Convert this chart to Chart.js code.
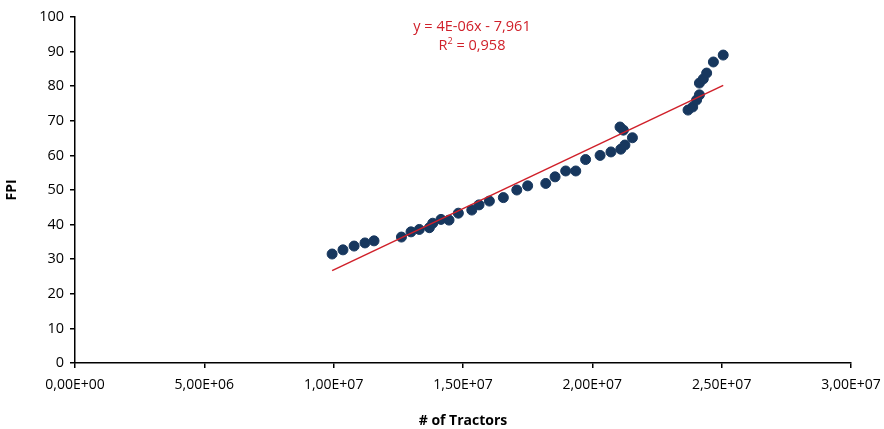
<!DOCTYPE html>
<html>
<head>
<meta charset="utf-8">
<script src="https://cdn.jsdelivr.net/npm/chart.js@4/dist/chart.umd.min.js"></script>
<style>
  html, body { margin: 0; padding: 0; background: #fff; }
  #wrap { width: 884px; height: 429px; position: relative; }
</style>
</head>
<body>
<div id="wrap"><canvas id="c" width="884" height="429"></canvas></div>
<script>
// Number of tractors (units) and the farm price index observed for each year
const tractors = [
  9.94e6, 10.36e6, 10.79e6, 11.21e6, 11.56e6, 12.62e6, 12.99e6, 13.31e6, 13.70e6, 13.83e6,
  14.15e6, 14.46e6, 14.82e6, 15.34e6, 15.62e6, 16.02e6, 16.56e6, 17.08e6, 17.50e6, 18.20e6,
  18.56e6, 18.97e6, 19.36e6, 19.74e6, 20.30e6, 20.72e6, 21.07e6, 21.20e6, 21.10e6, 21.26e6,
  21.55e6, 23.70e6, 23.88e6, 24.03e6, 24.14e6, 24.14e6, 24.29e6, 24.42e6, 24.68e6, 25.06e6
];
const fpi = [
  31.5, 32.7, 33.8, 34.7, 35.3, 36.4, 37.9, 38.6, 39.1, 40.4,
  41.5, 41.3, 43.3, 44.2, 45.7, 46.8, 47.8, 50.0, 51.2, 51.9,
  53.8, 55.5, 55.5, 58.8, 60.0, 61.0, 68.2, 67.3, 61.8, 63.0,
  65.1, 73.1, 74.0, 76.0, 77.5, 80.9, 82.1, 83.8, 87.0, 89.0
];
const xTicks = [0, 5e6, 1e7, 1.5e7, 2e7, 2.5e7, 3e7];
const yTicks = [0, 10, 20, 30, 40, 50, 60, 70, 80, 90, 100];
const trendLabel = ['y = 4E-06x - 7,961', '= 0,958'];

// Ordinary least-squares trend through the observations
const n = tractors.length;
const mx = tractors.reduce((a, b) => a + b, 0) / n;
const my = fpi.reduce((a, b) => a + b, 0) / n;
let sxy = 0, sxx = 0;
for (let i = 0; i < n; i++) {
  sxy += (tractors[i] - mx) * (fpi[i] - my);
  sxx += (tractors[i] - mx) ** 2;
}
const slope = sxy / sxx;
const intercept = my - slope * mx;
const xMin = Math.min(...tractors), xMax = Math.max(...tractors);
const trend = [
  { x: xMin, y: intercept + slope * xMin },
  { x: xMax, y: intercept + slope * xMax }
];

const points = tractors.map((x, i) => ({ x, y: fpi[i] }));

function sci(v) {
  if (v === 0) return '0,00E+00';
  const [m, e] = v.toExponential(2).split('e');
  const ev = parseInt(e, 10);
  return m.replace('.', ',') + 'E' + (ev < 0 ? '-' : '+') + String(Math.abs(ev)).padStart(2, '0');
}

const FONT = "'Open Sans', 'Noto Sans', sans-serif";
const RED = '#d0202a';
const EQ_SIZE = 14.5;

// Trend equation drawn above the plot
const equationPlugin = {
  id: 'equation',
  afterDraw(chart) {
    const ctx = chart.ctx;
    const cx = 472;
    ctx.save();
    ctx.fillStyle = RED;
    ctx.textBaseline = 'middle';
    ctx.font = EQ_SIZE + 'px ' + FONT;
    ctx.textAlign = 'center';
    ctx.fillText(trendLabel[0], cx, 27);
    // R² line: R, superscript 2, rest
    const r = 'R', sup = '2', rest = ' ' + trendLabel[1];
    const wR = ctx.measureText(r).width;
    const wRest = ctx.measureText(rest).width;
    ctx.font = '9px ' + FONT;
    const wSup = ctx.measureText(sup).width;
    const total = wR + wSup + wRest;
    const x0 = cx - total / 2;
    ctx.textAlign = 'left';
    ctx.font = EQ_SIZE + 'px ' + FONT;
    ctx.fillText(r, x0, 46);
    ctx.font = '9px ' + FONT;
    ctx.fillText(sup, x0 + wR, 41);
    ctx.font = EQ_SIZE + 'px ' + FONT;
    ctx.fillText(rest, x0 + wR + wSup, 46);
    ctx.restore();
  }
};

new Chart(document.getElementById('c'), {
  type: 'scatter',
  data: {
    datasets: [
      {
        label: 'FPI',
        data: points,
        backgroundColor: '#17375e',
        borderColor: '#17375e',
        pointRadius: 5,
        pointHoverRadius: 5,
        order: 2
      },
      {
        type: 'line',
        label: 'Trend',
        data: trend,
        borderColor: RED,
        borderWidth: 1.5,
        pointRadius: 0,
        fill: false,
        order: 1
      }
    ]
  },
  options: {
    responsive: false,
    animation: false,
    devicePixelRatio: 1,
    layout: { padding: { top: 17, right: 33, left: 0, bottom: 0 } },
    plugins: {
      legend: { display: false },
      tooltip: { enabled: false }
    },
    scales: {
      x: {
        type: 'linear',
        min: 0,
        max: 3e7,
        afterBuildTicks(axis) { axis.ticks = xTicks.map(v => ({ value: v })); },
        afterFit(axis) {
          axis.height = 66;
          // let the last label run to the canvas edge instead of shrinking the plot
          axis.paddingRight = 0;
          axis.paddingLeft = 0;
        },
        ticks: {
          callback: v => sci(v),
          color: '#000',
          font: { family: FONT, size: 14 },
          padding: 9,
          maxRotation: 0
        },
        grid: { drawOnChartArea: false, drawTicks: true, tickLength: 5, color: '#000', lineWidth: 1.5 },
        border: { color: '#000', width: 1.5 },
        title: {
          display: true,
          text: '# of Tractors',
          color: '#000',
          font: { family: FONT, size: 14, weight: 'bold' },
          padding: { top: 11, bottom: 0 }
        }
      },
      y: {
        min: 0,
        max: 100,
        afterBuildTicks(axis) { axis.ticks = yTicks.map(v => ({ value: v })); },
        afterFit(axis) { axis.width = 75; },
        ticks: {
          color: '#000',
          font: { family: FONT, size: 14.5 },
          padding: 6
        },
        grid: { drawOnChartArea: false, drawTicks: true, tickLength: 5, color: '#000', lineWidth: 1.5 },
        border: { color: '#000', width: 1.5 },
        title: {
          display: true,
          text: 'FPI',
          color: '#000',
          font: { family: FONT, size: 14, weight: 'bold' },
          padding: { top: 4, bottom: 0 }
        }
      }
    }
  },
  plugins: [equationPlugin]
});
</script>
</body>
</html>
